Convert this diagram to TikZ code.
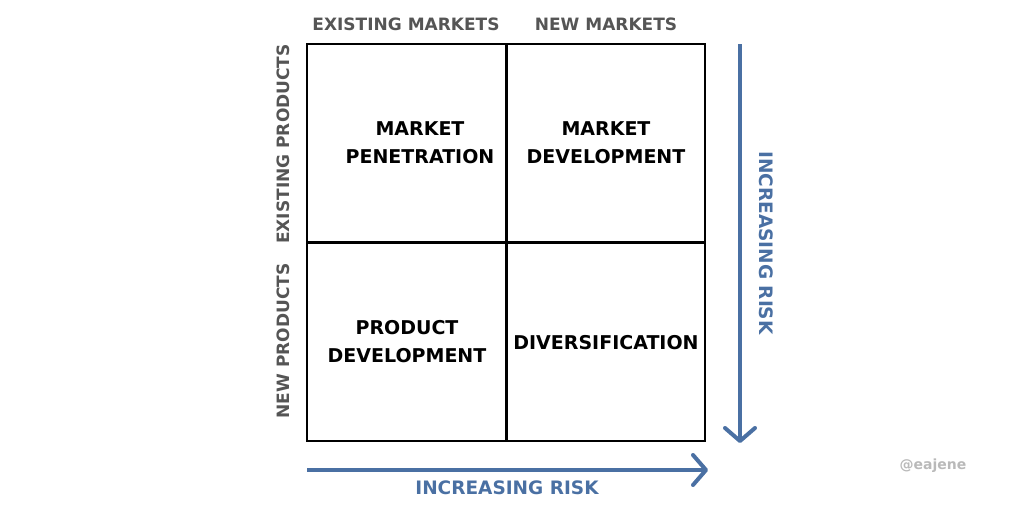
\documentclass[tikz,border=0pt]{standalone}
\usepackage{fontspec}
\setmainfont{DejaVu Sans}
\usepackage{tikz}
\usetikzlibrary{arrows.meta}
\definecolor{AnsoffRiskColor}{RGB}{74,112,163}
\definecolor{AnsoffAxisColor}{RGB}{85,85,85}
\definecolor{AnsoffTagColor}{RGB}{185,185,185}

\begin{document}
\begin{tikzpicture}[x=1pt,y=-1pt,cell/.style={font=\bfseries\fontsize{19}{28}\selectfont,align=center,inner sep=0pt},axis/.style={font=\bfseries\fontsize{17}{20}\selectfont,text=AnsoffAxisColor,inner sep=0pt},risk/.style={font=\bfseries\fontsize{18.5}{22}\selectfont,text=AnsoffRiskColor,inner sep=0pt},riskarrow/.style={AnsoffRiskColor,line width=4pt,-{Straight Barb[length=13pt,width=30pt,line width=4pt,round]}}]
\useasboundingbox (0,0) rectangle (1012,506);
\draw[line width=2pt] (307,44) rectangle (705,441);
\draw[line width=3pt] (506,44) -- (506,441) (307,242) -- (705,242);
\node[cell] (pen) at (420,143) {MARKET\\PENETRATION};
\node[cell] (mdev) at (606,143) {MARKET\\DEVELOPMENT};
\node[cell] (pdev) at (407,342) {PRODUCT\\DEVELOPMENT};
\node[cell] (div) at (606,343) {DIVERSIFICATION};
\foreach \x/\l in %
{406/EXISTING MARKETS,606/NEW MARKETS} {
   \node[axis] at (\x,24) {\l};
}
\foreach \y/\l in %
{144/EXISTING PRODUCTS,341/NEW PRODUCTS} {
   \node[axis,rotate=90] at (283,\y) {\l};
}
\coordinate (vtop) at (740,44);
\coordinate (vend) at (740,443);
\coordinate (hbeg) at (307,470);
\coordinate (hend) at (708,470);
\draw[riskarrow] (vtop) -- (vend);
\draw[riskarrow] (hbeg) -- (hend);
\node[risk,rotate=-90] (vrisk) at (766,243) {INCREASING RISK};
\node[risk] (hrisk) at (507,488) {INCREASING RISK};
\node[font=\bfseries\fontsize{14}{17}\selectfont,text=AnsoffTagColor] (tag) at (933,466) {@eajene};
\end{tikzpicture}
\end{document}
